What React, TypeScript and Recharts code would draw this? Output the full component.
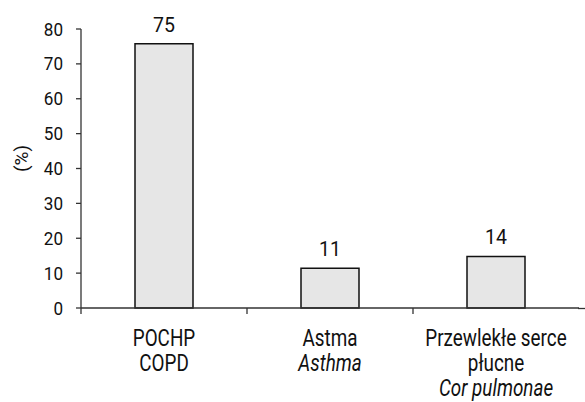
import React from 'react';
import { BarChart, Bar, XAxis, YAxis, LabelList, Label } from 'recharts';

const categoryKeys = ['copd', 'asthma', 'cor'];
const categoryLines: string[][] = [
  ['POCHP', 'COPD'],
  ['Astma', 'Asthma'],
  ['Przewlekłe serce', 'płucne', 'Cor pulmonae'],
];
const categoryItalic: boolean[][] = [
  [false, false],
  [false, true],
  [false, false, true],
];
const values = [75.8, 11.4, 14.8];
const valueLabels = ['75', '11', '14'];
const yTicks = [0, 10, 20, 30, 40, 50, 60, 70, 80];

const data = categoryKeys.map((k, i) => ({ key: k, value: values[i], label: valueLabels[i], idx: i }));

const FONT = 'Roboto, "Liberation Sans", sans-serif';
const AXIS = '#333';

const XTick = (props: any) => {
  const { x, y, payload, index } = props;
  const i = typeof index === 'number' ? index : categoryKeys.indexOf(payload.value);
  const half = payload && typeof payload.offset === 'number' ? payload.offset : 83;
  const lines = categoryLines[i] || [];
  const isLast = i === categoryKeys.length - 1;
  const axisY = y - 8;
  return (
    <g>
      <line x1={x - half} x2={x - half} y1={axisY} y2={axisY + 6} stroke={AXIS} strokeWidth={1.3} />
      {isLast && (
        <line x1={x + half - 1} x2={x + half + 10} y1={axisY + 0.5} y2={axisY + 0.5} stroke={AXIS} strokeWidth={1.3} />
      )}
      {lines.map((ln, j) => (
        <text
          key={j}
          x={0}
          y={0}
          transform={`translate(${x} ${y + 30 + j * 25}) scale(0.82 1)`}
          textAnchor="middle"
          fontFamily={FONT}
          fontSize={23}
          fontStyle={categoryItalic[i][j] ? 'italic' : 'normal'}
          fill="#111"
        >
          {ln}
        </text>
      ))}
    </g>
  );
};

const YTick = (props: any) => {
  const { x, y, payload } = props;
  return (
    <text
      x={0}
      y={0}
      transform={`translate(${x} ${y + 6.5}) scale(0.9 1)`}
      textAnchor="end"
      fontFamily={FONT}
      fontSize={19}
      fill="#111"
    >
      {payload.value}
    </text>
  );
};

export default function App() {
  return (
    <div style={{ position: 'absolute', left: 0, top: 0, width: 585, height: 402, background: '#fff' }}>
      <BarChart
        width={585}
        height={402}
        data={data}
        margin={{ top: 29, right: 6, left: 0, bottom: 0 }}
      >
        <XAxis
          dataKey="key"
          height={94}
          tick={<XTick />}
          tickLine={false}
          axisLine={{ stroke: AXIS, strokeWidth: 1.3 }}
          interval={0}
        />
        <YAxis
          width={81}
          domain={[0, 80]}
          ticks={yTicks}
          interval={0}
          tickSize={5}
          tickMargin={13}
          tickLine={{ stroke: AXIS, strokeWidth: 1.3 }}
          axisLine={{ stroke: AXIS, strokeWidth: 1.3 }}
          tick={<YTick />}
        >
          <Label
            content={(p: any) => {
              const vb = p.viewBox || { x: 0, y: 29, width: 81, height: 278 };
              const cx = vb.x + 21;
              const cy = vb.y + vb.height / 2 - 10;
              return (
                <text
                  x={cx}
                  y={cy}
                  transform={`rotate(-90 ${cx} ${cy})`}
                  textAnchor="middle"
                  dominantBaseline="central"
                  fontFamily={FONT}
                  fontSize={19}
                  fill="#111"
                >
                  (%)
                </text>
              );
            }}
          />
        </YAxis>
        <Bar dataKey="value" fill="#e6e6e6" stroke="#111" strokeWidth={1.5} barSize={58} isAnimationActive={false}>
          <LabelList
            dataKey="label"
            position="top"
            offset={12}
            style={{ fontFamily: FONT, fontSize: 19.5, fill: '#111' }}
          />
        </Bar>
      </BarChart>
    </div>
  );
}
